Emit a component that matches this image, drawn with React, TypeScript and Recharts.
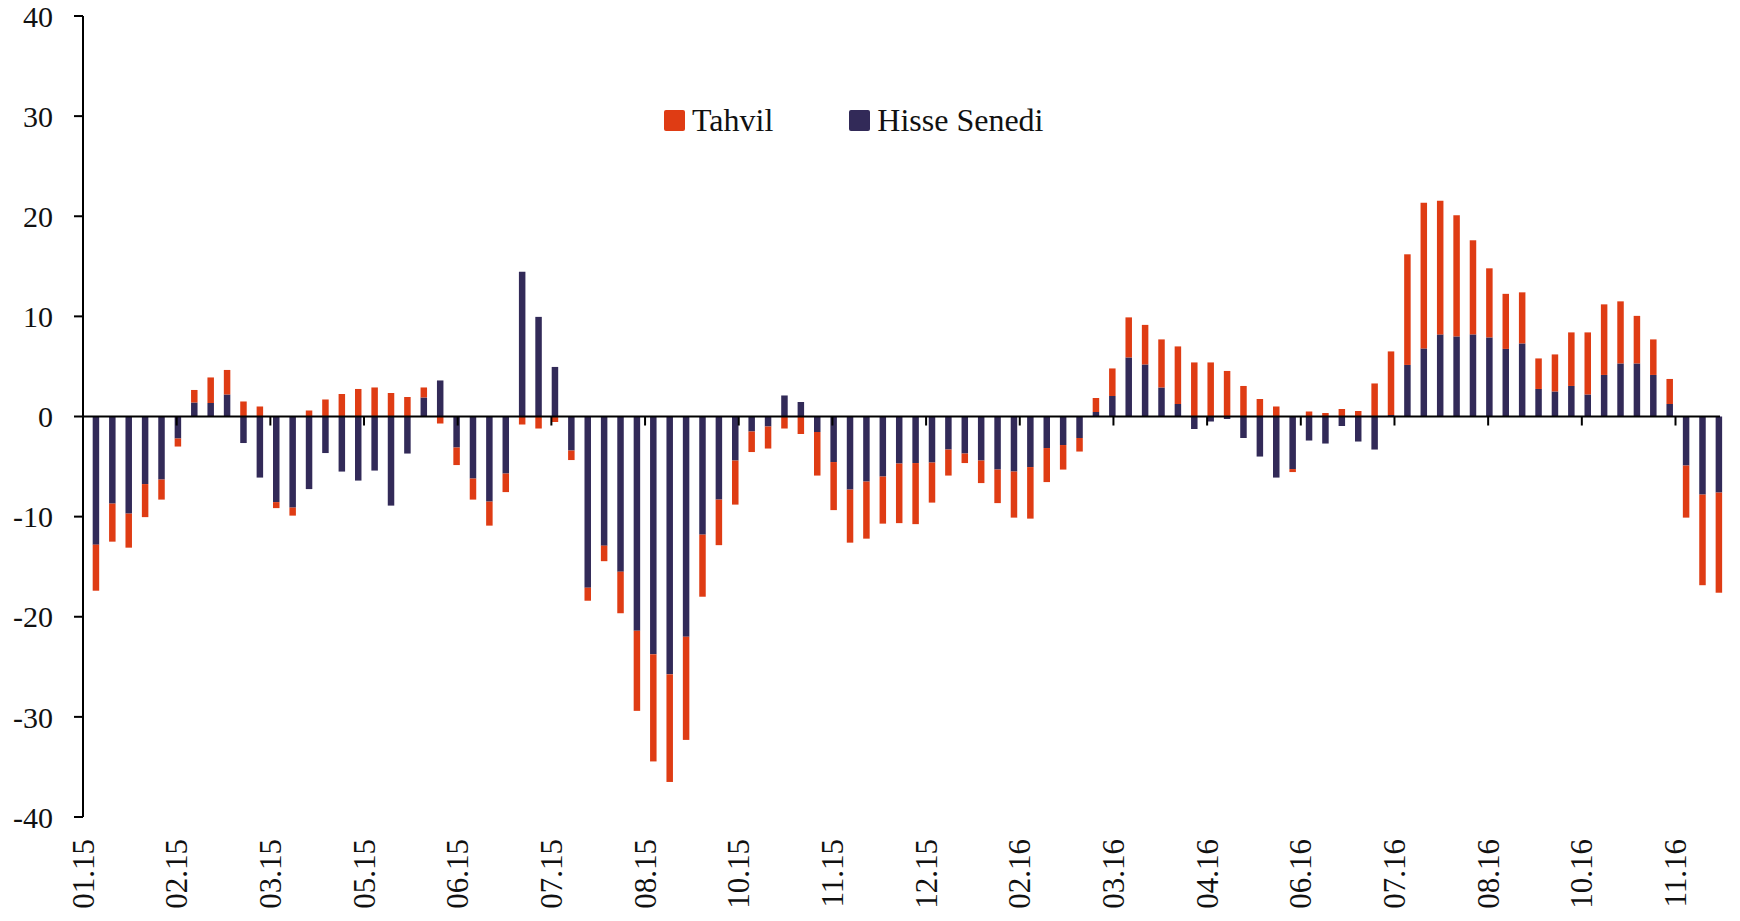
import React from "react";
import { BarChart, Bar, XAxis, YAxis, ReferenceLine } from "recharts";

// weekly net flows, Hisse Senedi (equities) and Tahvil (bonds)
const hisse = [
  -12.8, -8.7, -9.7, -6.75, -6.3, -2.2, 1.4, 1.35, 2.2, -2.65,
  -6.1, -8.55, -9.1, -7.25, -3.65, -5.5, -6.4, -5.4, -8.9, -3.7,
  1.9, 3.6, -3.1, -6.2, -8.5, -5.7, 14.45, 9.95, 4.95, -3.4,
  -17.1, -12.9, -15.5, -21.4, -23.75, -25.75, -22.0, -11.8, -8.3, -4.4,
  -1.5, -1.0, 2.1, 1.45, -1.55, -4.55, -7.3, -6.5, -6.0, -4.7,
  -4.65, -4.6, -3.3, -3.7, -4.4, -5.3, -5.5, -5.05, -3.15, -2.85,
  -2.15, 0.45, 2.05, 5.9, 5.2, 2.9, 1.25, -1.25, -0.5, -0.25,
  -2.15, -4.0, -6.1, -5.25, -2.4, -2.7, -0.95, -2.5, -3.3, 0.15,
  5.15, 6.8, 8.2, 8.0, 8.2, 7.9, 6.75, 7.3, 2.75, 2.5,
  3.05, 2.2, 4.15, 5.3, 5.3, 4.15, 1.25, -4.9, -7.8, -7.6,
];

const tahvil = [
  -4.6, -3.8, -3.4, -3.3, -2.0, -0.8, 1.25, 2.55, 2.45, 1.5,
  1.0, -0.6, -0.8, 0.6, 1.7, 2.25, 2.75, 2.9, 2.35, 1.95,
  1.0, -0.7, -1.75, -2.1, -2.4, -1.85, -0.8, -1.2, -0.55, -0.95,
  -1.3, -1.55, -4.15, -8.0, -10.7, -10.75, -10.3, -6.2, -4.55, -4.4,
  -2.05, -2.2, -1.2, -1.75, -4.35, -4.8, -5.3, -5.7, -4.7, -5.95,
  -6.1, -4.0, -2.6, -0.95, -2.25, -3.35, -4.6, -5.15, -3.4, -2.45,
  -1.35, 1.4, 2.75, 4.0, 3.95, 4.8, 5.75, 5.4, 5.4, 4.55,
  3.05, 1.75, 1.0, -0.3, 0.5, 0.35, 0.75, 0.55, 3.3, 6.35,
  11.05, 14.55, 13.35, 12.1, 9.4, 6.9, 5.5, 5.1, 3.05, 3.7,
  5.35, 6.2, 7.05, 6.2, 4.75, 3.55, 2.5, -5.2, -9.05, -10.0,
];

// date axis: starts 01.01.2015, a label every 40 days
const tickLabels = [
  "01.15", "02.15", "03.15", "05.15", "06.15", "07.15", "08.15", "10.15", "11.15",
  "12.15", "02.16", "03.16", "04.16", "06.16", "07.16", "08.16", "10.16", "11.16",
];
const yTicks = [-40, -30, -20, -10, 0, 10, 20, 30, 40];

const DAY = 86400000;
const axisStart = Date.UTC(2015, 0, 1);
const firstWeek = Date.UTC(2015, 0, 6);
const tickStep = 40;
const tickDays = tickLabels.map((_, i) => i * tickStep);

const data = hisse.map((h, i) => ({
  day: (firstWeek + i * 7 * DAY - axisStart) / DAY + 0.5,
  hisse: h,
  tahvil: tahvil[i],
}));
const lastDay = Math.ceil(data[data.length - 1].day);

const ORANGE = "#DF3C14";
const NAVY = "#322A58";
const FONT = "'Liberation Serif', 'Times New Roman', serif";

const legendItems = [
  { name: "Tahvil", color: ORANGE },
  { name: "Hisse Senedi", color: NAVY },
];

function DateTick(props: any) {
  const { x, y, index } = props;
  return (
    <text
      x={x}
      y={y}
      transform={`rotate(-90 ${x} ${y})`}
      textAnchor="end"
      dominantBaseline="central"
      fontFamily={FONT}
      fontSize={31}
      fill="#111"
    >
      {tickLabels[index]}
    </text>
  );
}

function LegendBox() {
  return (
    <div
      style={{
        position: "absolute",
        left: 664,
        top: 104,
        display: "flex",
        fontFamily: FONT,
        fontSize: 32,
        lineHeight: "32px",
        color: "#111",
      }}
    >
      {legendItems.map((it, i) => (
        <div key={it.name} style={{ marginRight: i === 0 ? 76 : 0, whiteSpace: "nowrap" }}>
          <span
            style={{
              display: "inline-block",
              width: 21,
              height: 21,
              borderRadius: 2,
              background: it.color,
              marginRight: 7,
              verticalAlign: "baseline",
            }}
          />
          {it.name}
        </div>
      ))}
    </div>
  );
}

export default function App() {
  return (
    <div style={{ position: "absolute", left: 0, top: 0, width: 1740, height: 921, background: "#fff" }}>
      <BarChart
        width={1740}
        height={921}
        data={data}
        stackOffset="sign"
        margin={{ top: 16, right: 20, left: 0, bottom: 0 }}
      >
        <XAxis
          dataKey="day"
          type="number"
          domain={[0, lastDay]}
          ticks={tickDays}
          interval={0}
          axisLine={false}
          tickLine={false}
          tickSize={0}
          tickMargin={22}
          height={104}
          tick={<DateTick />}
        />
        <YAxis
          type="number"
          domain={[-40, 40]}
          ticks={yTicks}
          interval={0}
          width={83}
          axisLine={{ stroke: "#000", strokeWidth: 2 }}
          tickLine={{ stroke: "#000", strokeWidth: 2 }}
          tickSize={9}
          tickMargin={21}
          tick={{ fontFamily: FONT, fontSize: 30, fill: "#111" }}
        />
        <Bar dataKey="hisse" name="Hisse Senedi" stackId="a" fill={NAVY} barSize={6.5} isAnimationActive={false} />
        <Bar dataKey="tahvil" name="Tahvil" stackId="a" fill={ORANGE} barSize={6.5} isAnimationActive={false} />
        <ReferenceLine y={0} stroke="#000" strokeWidth={2} />
        {tickDays.map((d) => (
          <ReferenceLine
            key={d}
            segment={[
              { x: d, y: 0 },
              { x: d, y: -0.9 },
            ]}
            stroke="#000"
            strokeWidth={2}
          />
        ))}
      </BarChart>
      <LegendBox />
    </div>
  );
}
